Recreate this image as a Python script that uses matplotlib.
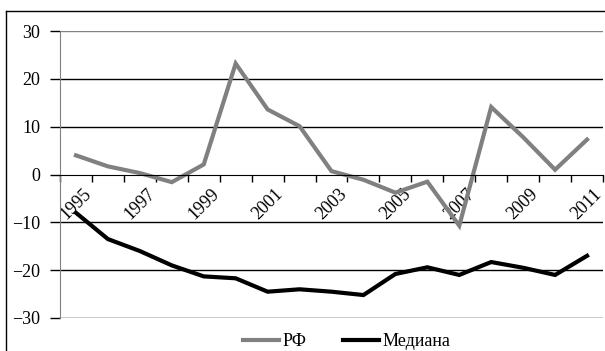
import matplotlib
matplotlib.use('Agg')
import matplotlib.pyplot as plt
from matplotlib.lines import Line2D

# Годы и ряды
years = list(range(1995, 2012))
rf = [4.0, 1.7, 0.3, -1.6, 2.1, 23.2, 13.6, 10.1, 0.7, -1.1, -3.8, -1.5, -10.7, 14.1, 7.8, 1.0, 7.3]
median = [-8.0, -13.5, -16.0, -19.0, -21.3, -21.7, -24.5, -24.0, -24.5, -25.2, -20.8, -19.4, -21.0, -18.3, -19.5, -21.0, -17.0]
year_labels = [str(y) if y % 2 == 1 else '' for y in years]
y_ticks = [-30, -20, -10, 0, 10, 20, 30]

plt.rcParams['font.family'] = ['Liberation Serif', 'DejaVu Serif']

W, H = 605, 351
fig = plt.figure(figsize=(W / 100, H / 100), dpi=100)
ax = fig.add_axes([60 / W, 1 - 318 / H, (603 - 60) / W, (318 - 31) / H])

x = list(range(len(years)))
ax.plot(x, rf, color='#808080', lw=3, label='РФ', solid_joinstyle='miter')
ax.plot(x, median, color='black', lw=3, label='Медиана', solid_joinstyle='miter')

ax.set_xlim(-0.5, len(years) - 0.5)
ax.set_ylim(-30, 30)

# сетка
for v in [-30, -20, -10, 10, 20]:
    ax.axhline(v, color='black', lw=1, zorder=0)
ax.axhline(30, color='#808080', lw=1, zorder=0)

for s in ['top', 'right']:
    ax.spines[s].set_visible(False)
ax.spines['left'].set_color('#808080')
ax.spines['bottom'].set_position(('data', 0))
ax.spines['bottom'].set_color('black')

ax.set_yticks(y_ticks)
ax.tick_params(axis='y', length=7.2, width=1, color='black', pad=7, labelsize=13)

# деления между категориями, подписи по центрам
ax.set_xticks([i - 0.5 for i in range(len(years) + 1)])
ax.set_xticklabels([])
ax.tick_params(axis='x', which='major', length=5, width=1, color='black', direction='out')
ax.set_xticks(x, minor=True)
ax.set_xticklabels(year_labels, minor=True, rotation=45, ha='center', va='top', fontsize=13)
ax.tick_params(axis='x', which='minor', length=0, pad=8)

# рамка
fig.add_artist(Line2D([6 / W, 1], [1 - 11 / H, 1 - 11 / H], color='black', lw=1))
fig.add_artist(Line2D([6 / W, 6 / W], [0, 1 - 11 / H], color='black', lw=1))

fig.legend(loc='center left', bbox_to_anchor=(243 / W, 1 - 342 / H), ncol=2, frameon=False,
           fontsize=13, handlelength=2.0, handletextpad=0.2, columnspacing=2.0,
           borderpad=0, borderaxespad=0)

fig.savefig('out.png', dpi=100)
